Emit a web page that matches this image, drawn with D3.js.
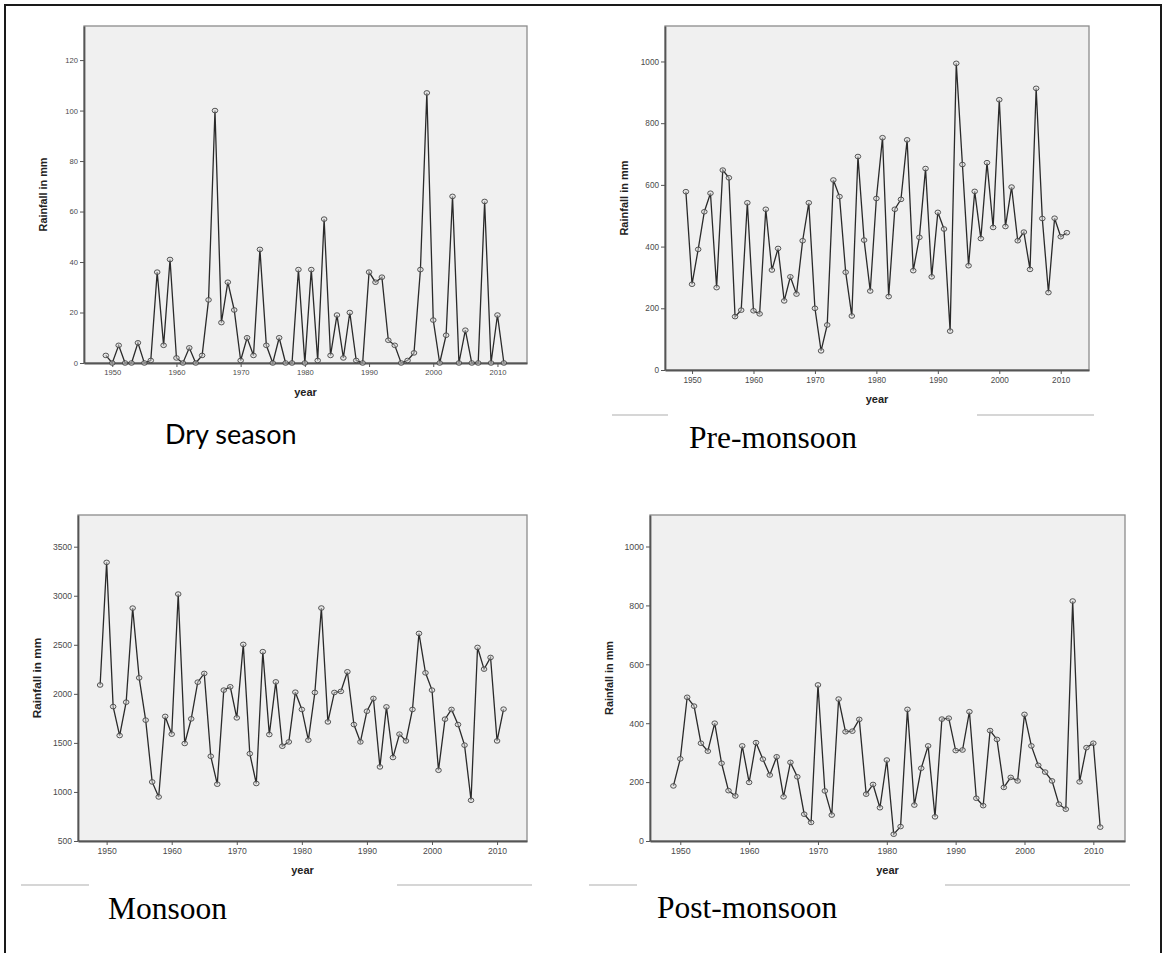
<!DOCTYPE html>
<html>
<head>
<meta charset="utf-8">
<script src="https://cdn.jsdelivr.net/npm/d3@7"></script>
<style>
  body { margin: 0; background: #fff; }
  svg { display: block; }
</style>
</head>
<body>
<div id="chart"></div>
<script>
// years 1949 - 2011
const years = d3.range(1949, 2012);

// seasonal rainfall (mm)
const dry = [3,0,7,0,0,8,0,1,36,7, 41,2,0,6,0,3,25,100,16,32, 21,1,10,3,45,7,0,10,0,0,
  37,0,37,1,57,3,19,2,20,1, 0,36,32,34,9,7,0,1,4,37, 107,17,0,11,66,0,13,0,0,64, 0,19,0];
const preMonsoon = [578,278,391,513,573,267,648,623,173,194, 542,192,182,521,324,394,224,302,246,419,
  542,200,62,146,616,562,317,175,692,421, 256,556,753,238,521,553,746,322,430,653,
  302,511,457,126,994,666,338,579,426,672, 462,876,465,593,419,447,326,913,491,251, 492,432,445];
const monsoon = [2090,3340,1870,1575,1915,2874,2163,1732,1102,949, 1770,1589,3017,1494,1745,2119,2208,1364,1079,2038,
  2072,1755,2504,1390,1086,2430,1585,2122,1466,1510, 2017,1841,1528,2014,2875,1714,2014,2025,2225,1687,
  1510,1823,1953,1255,1867,1351,1589,1520,1841,2616, 2214,2038,1221,1742,1841,1687,1477,915,2473,2252, 2371,1520,1844];
const postMonsoon = [187,279,488,458,332,305,400,264,171,153, 323,199,334,278,224,286,150,267,218,91,
  63,530,170,88,482,371,373,413,159,192, 113,275,23,49,447,122,247,323,82,414,
  417,307,309,439,145,120,375,345,182,216, 204,430,323,257,234,204,125,108,815,201, 317,332,47];

const xTicks = [1950, 1960, 1970, 1980, 1990, 2000, 2010];
const dryTicks = [0, 20, 40, 60, 80, 100, 120];
const preTicks = [0, 200, 400, 600, 800, 1000];
const monTicks = [500, 1000, 1500, 2000, 2500, 3000, 3500];
const postTicks = [0, 200, 400, 600, 800, 1000];

const W = 1164, H = 953;

const svg = d3.select("#chart")
  .append("svg")
  .attr("width", W)
  .attr("height", H);

// page border (bottom edge is cut off in the original)
svg.append("path")
  .attr("d", `M5,${H + 5} V5 H1161 V${H + 5}`)
  .attr("fill", "none")
  .attr("stroke", "#1a1a1a")
  .attr("stroke-width", 2);

// panel frames: x0, y0, x1, y1 in px
const panels = [
  { values: dry, ticks: dryTicks, yDom: [0, 133.5], box: [84, 26, 527, 363], tickFont: 7.6, labFont: 10.8 },
  { values: preMonsoon, ticks: preTicks, yDom: [0, 1115], box: [665, 26, 1089, 370], tickFont: 8.2, labFont: 11 },
  { values: monsoon, ticks: monTicks, yDom: [500, 3823], box: [78, 515, 527, 841], tickFont: 8.6, labFont: 11.8 },
  { values: postMonsoon, ticks: postTicks, yDom: [0, 1107], box: [650, 515, 1125, 841], tickFont: 8.8, labFont: 10.8 }
];

panels.forEach(function(p) {
  const [x0, y0, x1, y1] = p.box;
  const x = d3.scaleLinear().domain([1945.6, 2014.6]).range([x0, x1]);
  const y = d3.scaleLinear().domain(p.yDom).range([y1, y0]);
  const g = svg.append("g");

  g.append("rect")
    .attr("x", x0).attr("y", y0)
    .attr("width", x1 - x0).attr("height", y1 - y0)
    .attr("fill", "#f0f0f0")
    .attr("stroke", "#8c8c8c")
    .attr("stroke-width", 1.3);

  // y axis
  const ya = g.append("g")
    .attr("transform", `translate(${x0},0)`)
    .call(d3.axisLeft(y).tickValues(p.ticks).tickFormat(d3.format("d"))
      .tickSize(4).tickPadding(2).tickSizeOuter(0));
  // x axis
  const xa = g.append("g")
    .attr("transform", `translate(0,${y1})`)
    .call(d3.axisBottom(x).tickValues(xTicks).tickFormat(d3.format("d"))
      .tickSize(4).tickPadding(3).tickSizeOuter(0));

  [ya, xa].forEach(function(a) {
    a.select(".domain").attr("stroke", "#555").attr("stroke-width", 1.8);
    a.selectAll(".tick line").attr("stroke", "#555");
    a.selectAll(".tick text")
      .attr("fill", "#4a4a4a")
      .style("font-family", "Arial, 'Liberation Sans', sans-serif")
      .style("font-size", p.tickFont + "px");
  });

  // axis titles
  g.append("text")
    .attr("transform", `translate(${x0 - 37},${(y0 + y1) / 2}) rotate(-90)`)
    .attr("text-anchor", "middle")
    .style("font-family", "Arial, 'Liberation Sans', sans-serif")
    .style("font-weight", "bold")
    .style("font-size", p.labFont + "px")
    .attr("fill", "#222")
    .text("Rainfall in mm");

  g.append("text")
    .attr("x", (x0 + x1) / 2)
    .attr("y", y1 + 33)
    .attr("text-anchor", "middle")
    .style("font-family", "Arial, 'Liberation Sans', sans-serif")
    .style("font-weight", "bold")
    .style("font-size", "11px")
    .attr("fill", "#222")
    .text("year");

  // the series
  const line = d3.line()
    .x(function(d, i) { return x(years[i]); })
    .y(function(d) { return y(d); });

  g.append("path")
    .datum(p.values)
    .attr("d", line)
    .attr("fill", "none")
    .attr("stroke", "#2a2a2a")
    .attr("stroke-width", 1.3);

  g.selectAll("ellipse")
    .data(p.values)
    .enter()
    .append("ellipse")
    .attr("cx", function(d, i) { return x(years[i]); })
    .attr("cy", function(d) { return y(d); })
    .attr("rx", 2.8)
    .attr("ry", 2.3)
    .attr("fill", "rgba(220,220,220,0.5)")
    .attr("stroke", "#444")
    .attr("stroke-width", 0.9);
});

// season captions
svg.append("text")
  .attr("x", 165).attr("y", 444)
  .style("font-family", "Lato, 'Open Sans', sans-serif")
  .style("font-size", "27px")
  .text("Dry season");

const serifCaps = [
  { t: "Pre-monsoon", x: 689, y: 448 },
  { t: "Monsoon", x: 108, y: 919 },
  { t: "Post-monsoon", x: 657, y: 918 }
];
svg.selectAll("text.cap")
  .data(serifCaps)
  .enter()
  .append("text")
  .attr("class", "cap")
  .attr("x", function(d) { return d.x; })
  .attr("y", function(d) { return d.y; })
  .style("font-family", "'Liberation Serif', 'Times New Roman', serif")
  .style("font-size", "31.5px")
  .text(function(d) { return d.t; });

// thin grey rules left over from the document layout
const rules = [[612, 668, 415], [977, 1094, 415], [21, 89, 885], [397, 532, 885], [589, 637, 885], [945, 1130, 885]];
svg.selectAll("line.rule")
  .data(rules)
  .enter()
  .append("line")
  .attr("class", "rule")
  .attr("x1", function(d) { return d[0]; })
  .attr("x2", function(d) { return d[1]; })
  .attr("y1", function(d) { return d[2]; })
  .attr("y2", function(d) { return d[2]; })
  .attr("stroke", "#c8c8c8")
  .attr("stroke-width", 1.5);
</script>
</body>
</html>
